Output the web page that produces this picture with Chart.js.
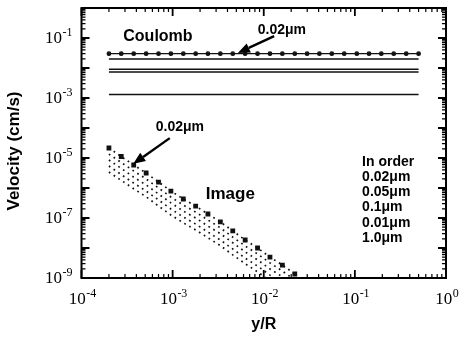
<!DOCTYPE html>
<html>
<head>
<meta charset="utf-8">
<script src="https://cdn.jsdelivr.net/npm/chart.js@4/dist/chart.umd.min.js"></script>
<style>
  html, body { margin: 0; padding: 0; background: #fff; }
  #wrap { position: relative; width: 460px; height: 339px; }
</style>
</head>
<body>
<div id="wrap"><canvas id="c"></canvas></div>
<script>
// Sample positions along the surface (y/R), log spaced
const yOverR = [2.0e-4, 2.73e-4, 3.74e-4, 5.12e-4, 7.0e-4, 9.57e-4, 1.31e-3, 1.79e-3,
  2.44e-3, 3.34e-3, 4.57e-3, 6.25e-3, 8.55e-3, 1.17e-2, 1.60e-2, 2.19e-2,
  2.99e-2, 4.08e-2, 5.58e-2, 7.64e-2, 0.105, 0.143, 0.195, 0.267, 0.366, 0.5];

// Particle sizes, listed in plotting order
const sizes = ['0.02μm', '0.05μm', '0.1μm', '0.01μm', '1.0μm'];

// Coulomb drift velocity (cm/s), independent of y/R
const coulombVelocity = [0.03, 0.02, 0.0091, 0.0074, 0.0013];

// Image-force velocity (cm/s) at the first 16 sample positions
const image002 = [2.15e-5, 1.12e-5, 5.85e-6, 3.16e-6, 1.58e-6, 7.9e-7, 4.3e-7, 2.5e-7,
  1.36e-7, 7.4e-8, 3.7e-8, 1.85e-8, 1.0e-8, 5.0e-9, 2.7e-9, 1.36e-9];
const image005 = [1.35e-5, 7.1e-6, 3.7e-6, 2.0e-6, 1.0e-6, 5.0e-7, 2.7e-7, 1.58e-7,
  8.6e-8, 4.7e-8, 2.3e-8, 1.17e-8, 6.3e-9, 3.2e-9, 1.7e-9, 8.6e-10];
const image01 = [8.6e-6, 4.5e-6, 2.3e-6, 1.26e-6, 6.3e-7, 3.2e-7, 1.7e-7, 1.0e-7,
  5.4e-8, 3.0e-8, 1.5e-8, 7.4e-9, 4.0e-9, 2.0e-9, 1.1e-9, 5.4e-10];
const image001 = [5.4e-6, 2.8e-6, 1.46e-6, 7.9e-7, 4.0e-7, 2.0e-7, 1.08e-7, 6.3e-8,
  3.4e-8, 1.85e-8, 9.3e-9, 4.6e-9, 2.5e-9, 1.25e-9, 6.8e-10, 3.4e-10];
const image10 = [3.4e-6, 1.8e-6, 9.4e-7, 5.1e-7, 2.5e-7, 1.26e-7, 6.9e-8, 4.0e-8,
  2.2e-8, 1.2e-8, 5.9e-9, 3.0e-9, 1.6e-9, 8.0e-10, 4.3e-10, 2.2e-10];
const imageVelocity = [image002, image005, image01, image001, image10];

// Axis tick exponents
const xTickExp = [-4, -3, -2, -1, 0];
const yTickExp = [-1, -3, -5, -7, -9];

const datasets = [];
coulombVelocity.forEach((v, i) => {
  datasets.push({
    label: 'Coulomb ' + sizes[i],
    data: yOverR.map(x => ({ x: x, y: v })),
    borderColor: '#111',
    backgroundColor: '#111',
    borderWidth: i === 0 ? 1.2 : 1.5,
    pointRadius: i === 0 ? 1.8 : 0,
    pointStyle: 'circle',
    tension: 0
  });
});
imageVelocity.forEach((arr, i) => {
  datasets.push({
    label: 'Image ' + sizes[i],
    data: arr.map((v, k) => ({ x: yOverR[k], y: v })),
    borderColor: '#111',
    backgroundColor: '#111',
    borderWidth: 1.7,
    borderDash: [1.7, 4],
    pointRadius: i === 0 ? 2.2 : 0,
    pointStyle: 'rect',
    tension: 0
  });
});

const SANS = '"Liberation Sans", Arial, Helvetica, sans-serif';
const SERIF = '"Liberation Serif", "Times New Roman", serif';

function powLabel(ctx, exp, x, y, align) {
  ctx.font = '17px ' + SERIF;
  const base = '10';
  const wb = ctx.measureText(base).width;
  ctx.font = '12px ' + SERIF;
  const sup = String(exp);
  const ws = ctx.measureText(sup).width;
  const total = wb + ws + 0.5;
  let left = align === 'right' ? x - total : x - total / 2;
  ctx.textAlign = 'left';
  ctx.textBaseline = 'alphabetic';
  ctx.font = '17px ' + SERIF;
  ctx.fillText(base, left, y);
  ctx.font = '12px ' + SERIF;
  ctx.fillText(sup, left + wb + 0.5, y - 7.5);
}

function arrow(ctx, x0, y0, x1, y1) {
  const ang = Math.atan2(y1 - y0, x1 - x0);
  const L = 12, W = 5;
  const bx = x1 - L * Math.cos(ang), by = y1 - L * Math.sin(ang);
  ctx.lineWidth = 2.4;
  ctx.beginPath();
  ctx.moveTo(x0, y0);
  ctx.lineTo(bx, by);
  ctx.stroke();
  ctx.beginPath();
  ctx.moveTo(x1, y1);
  ctx.lineTo(bx + W * Math.sin(ang), by - W * Math.cos(ang));
  ctx.lineTo(bx - W * Math.sin(ang), by + W * Math.cos(ang));
  ctx.closePath();
  ctx.fill();
}

const decor = {
  id: 'decor',
  afterDraw(chart) {
    const { ctx, chartArea: a, scales } = chart;
    const xs = scales.x, ys = scales.y;
    const px = v => xs.getPixelForValue(v);
    const py = v => ys.getPixelForValue(v);
    ctx.save();
    ctx.strokeStyle = '#000';
    ctx.fillStyle = '#000';

    // frame
    ctx.lineWidth = 2;
    ctx.strokeRect(a.left, a.top, a.right - a.left, a.bottom - a.top);

    // ticks on all four sides, pointing inward
    const major = 8, minor = 4;
    for (let d = -4; d <= 0; d++) {
      for (let m = 1; m <= 9; m++) {
        const v = m * Math.pow(10, d);
        if (v < 1e-4 || v > 1) continue;
        const X = px(v), len = m === 1 ? major : minor;
        ctx.lineWidth = m === 1 ? 1.8 : 1.2;
        ctx.beginPath();
        ctx.moveTo(X, a.bottom); ctx.lineTo(X, a.bottom - len);
        ctx.moveTo(X, a.top); ctx.lineTo(X, a.top + len);
        ctx.stroke();
      }
    }
    for (let d = -9; d <= 0; d++) {
      for (let m = 1; m <= 9; m++) {
        const v = m * Math.pow(10, d);
        if (v < 1e-9 || v > 1) continue;
        const Y = py(v), len = m === 1 ? major : minor;
        ctx.lineWidth = m === 1 ? 1.8 : 1.2;
        ctx.beginPath();
        ctx.moveTo(a.left, Y); ctx.lineTo(a.left + len, Y);
        ctx.moveTo(a.right, Y); ctx.lineTo(a.right - len, Y);
        ctx.stroke();
      }
    }

    // tick labels
    xTickExp.forEach(e => powLabel(ctx, e, px(Math.pow(10, e)) + 1, a.bottom + 26, 'center'));
    yTickExp.forEach(e => powLabel(ctx, e, a.left - 9, py(Math.pow(10, e)) + 5, 'right'));

    // axis titles
    ctx.font = 'bold 16px ' + SANS;
    ctx.textAlign = 'center';
    ctx.textBaseline = 'middle';
    ctx.fillText('y/R', (a.left + a.right) / 2, 325);
    ctx.save();
    ctx.translate(14, 151);
    ctx.rotate(-Math.PI / 2);
    ctx.font = 'bold 17px ' + SANS;
    ctx.fillText('Velocity (cm/s)', 0, 0);
    ctx.restore();

    // labels inside the plot
    ctx.font = 'bold 16px ' + SANS;
    ctx.fillText('Coulomb', px(6.9e-4), py(0.108));
    ctx.font = 'bold 17px ' + SANS;
    ctx.fillText('Image', px(4.3e-3), py(6.3e-7));

    ctx.font = 'bold 14px ' + SANS;
    ctx.fillText(sizes[0], px(0.0158), py(0.185));
    arrow(ctx, px(0.0130), py(0.115), px(5.2e-3), py(0.0316));
    ctx.fillText(sizes[0], px(1.2e-3), py(1.08e-4));
    arrow(ctx, px(9.3e-4), py(4.6e-5), px(3.7e-4), py(6.4e-6));

    // size list
    ctx.textAlign = 'left';
    const lx = px(0.12);
    let ly = py(7.4e-6);
    ctx.fillText('In order', lx, ly);
    sizes.forEach(s => { ly += 15.2; ctx.fillText(s, lx, ly); });

    ctx.restore();
  }
};

new Chart(document.getElementById('c'), {
  type: 'line',
  data: { datasets },
  options: {
    responsive: true,
    maintainAspectRatio: false,
    animation: false,
    layout: { padding: { left: 81.5, right: 14, top: 8, bottom: 61 } },
    plugins: { legend: { display: false }, tooltip: { enabled: false } },
    scales: {
      x: { type: 'logarithmic', min: 1e-4, max: 1, display: false },
      y: { type: 'logarithmic', min: 1e-9, max: 1, display: false }
    }
  },
  plugins: [decor]
});
</script>
</body>
</html>
